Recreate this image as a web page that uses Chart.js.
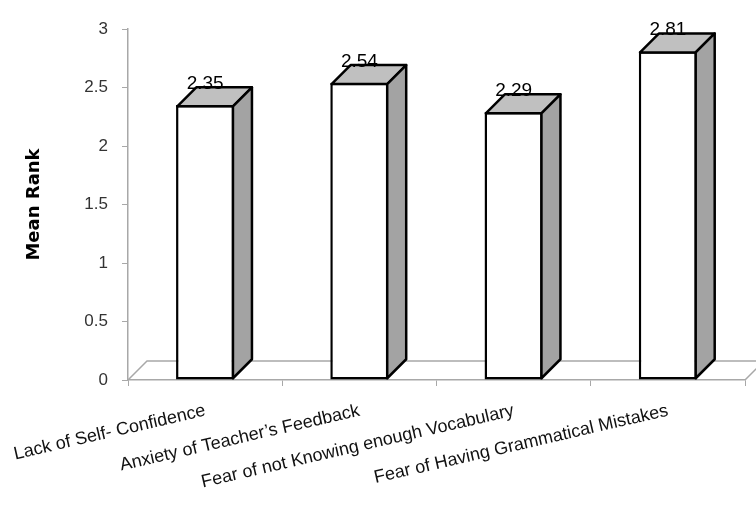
<!DOCTYPE html>
<html lang="en">
<head>
    <meta charset="UTF-8">
    <title>Mean Rank</title>
    <script src="https://cdn.jsdelivr.net/npm/chart.js"></script>
    <style>
        body { margin: 0; background: #fff; }
    </style>
</head>
<body>
    <canvas id="rankChart" width="756" height="507"></canvas>

    <script>
        const categories = [
            'Lack of Self- Confidence',
            'Anxiety of Teacher\u2019s Feedback',
            'Fear of not Knowing enough Vocabulary',
            'Fear of Having Grammatical Mistakes'
        ];
        const meanRanks = [2.35, 2.54, 2.29, 2.81];
        const yTicks = [0, 0.5, 1, 1.5, 2, 2.5, 3];

        const depth = 19;
        const axisGrey = '#a8a8a8';

        // floor of the 3d plot area, drawn under the bars
        const floorPlugin = {
            id: 'floor',
            beforeDatasetsDraw(chart) {
                const { ctx, chartArea: a } = chart;
                ctx.save();
                ctx.strokeStyle = axisGrey;
                ctx.lineWidth = 1.5;
                ctx.beginPath();
                ctx.moveTo(a.left, a.bottom);
                ctx.lineTo(a.left + depth, a.bottom - depth);
                ctx.lineTo(a.right + depth, a.bottom - depth);
                ctx.moveTo(a.right, a.bottom);
                ctx.lineTo(a.right + depth, a.bottom - depth);
                ctx.stroke();
                ctx.restore();
            }
        };

        // top and side faces of each bar plus the value above it
        const boxPlugin = {
            id: 'boxes',
            afterDatasetsDraw(chart) {
                const { ctx } = chart;
                const meta = chart.getDatasetMeta(0);
                const bw = 2.5;
                ctx.save();
                ctx.lineWidth = bw;
                ctx.lineJoin = 'round';
                ctx.strokeStyle = '#000';
                meta.data.forEach((bar, i) => {
                    const p = bar.getProps(['x', 'y', 'base', 'width'], true);
                    const L = p.x - p.width / 2 + bw / 2;
                    const R = p.x + p.width / 2 - bw / 2;
                    const T = p.y + bw / 2;
                    const B = p.base - bw / 2;

                    ctx.beginPath();
                    ctx.moveTo(L, T);
                    ctx.lineTo(L + depth, T - depth);
                    ctx.lineTo(R + depth, T - depth);
                    ctx.lineTo(R, T);
                    ctx.closePath();
                    ctx.fillStyle = '#c0c0c0';
                    ctx.fill();
                    ctx.stroke();

                    ctx.beginPath();
                    ctx.moveTo(R, T);
                    ctx.lineTo(R + depth, T - depth);
                    ctx.lineTo(R + depth, B - depth);
                    ctx.lineTo(R, B);
                    ctx.closePath();
                    ctx.fillStyle = '#a3a3a3';
                    ctx.fill();
                    ctx.stroke();

                    ctx.fillStyle = '#000';
                    ctx.font = "19px 'Liberation Sans', sans-serif";
                    ctx.textAlign = 'center';
                    ctx.textBaseline = 'alphabetic';
                    ctx.fillText(meanRanks[i].toFixed(2), p.x, p.y - depth + 3);
                });
                ctx.restore();
            }
        };

        const ctx = document.getElementById('rankChart').getContext('2d');

        new Chart(ctx, {
            type: 'bar',
            data: {
                labels: categories,
                datasets: [{
                    data: meanRanks,
                    backgroundColor: '#ffffff',
                    borderColor: '#000000',
                    borderWidth: 2.5,
                    borderSkipped: false,
                    categoryPercentage: 1,
                    barPercentage: 0.377
                }]
            },
            options: {
                responsive: false,
                animation: false,
                layout: {
                    padding: { top: 29, right: 11, left: 0, bottom: 0 }
                },
                plugins: {
                    legend: { display: false },
                    tooltip: { enabled: false }
                },
                scales: {
                    x: {
                        afterFit: (scale) => {
                            scale.height = 127;
                            // let the slanted labels run under the y axis
                            scale.paddingLeft = 0;
                            scale.paddingRight = 0;
                        },
                        grid: {
                            drawOnChartArea: false,
                            color: axisGrey,
                            tickLength: 6
                        },
                        border: { color: axisGrey, width: 1.5 },
                        ticks: {
                            minRotation: 13,
                            maxRotation: 13,
                            padding: 14,
                            color: '#111',
                            font: { family: "'Liberation Sans'", size: 18 }
                        }
                    },
                    y: {
                        min: 0,
                        max: 3,
                        afterFit: (scale) => { scale.width = 128; },
                        afterBuildTicks: (scale) => {
                            scale.ticks = yTicks.map(v => ({ value: v }));
                        },
                        grid: {
                            drawOnChartArea: false,
                            color: axisGrey,
                            tickLength: 6
                        },
                        border: { color: axisGrey, width: 1.5 },
                        ticks: {
                            padding: 14,
                            color: '#333',
                            font: { family: "'Liberation Sans'", size: 17 },
                            callback: (v) => String(v)
                        },
                        title: {
                            display: true,
                            text: 'Mean Rank',
                            color: '#000',
                            padding: { top: 24 },
                            font: { family: "'DejaVu Sans'", size: 18, weight: 'bold' }
                        }
                    }
                }
            },
            plugins: [floorPlugin, boxPlugin]
        });
    </script>
</body>
</html>
